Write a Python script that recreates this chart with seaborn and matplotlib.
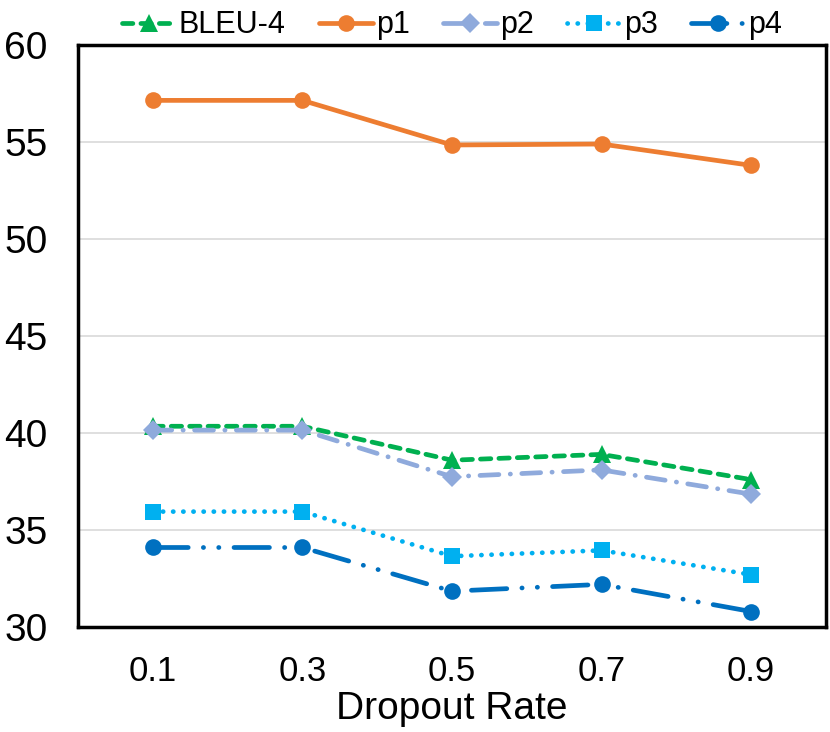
import numpy as np
import pandas as pd
import matplotlib
matplotlib.use('Agg')
import matplotlib.pyplot as plt
import seaborn as sns

# values
dropout = ['0.1', '0.3', '0.5', '0.7', '0.9']
bleu4 = [40.35, 40.35, 38.6, 38.9, 37.6]
p1 = [57.15, 57.15, 54.85, 54.9, 53.8]
p2 = [40.15, 40.15, 37.75, 38.1, 36.85]
p3 = [35.95, 35.95, 33.65, 33.95, 32.7]
p4 = [34.1, 34.1, 31.85, 32.2, 30.8]

sns.set_style('white')
plt.rcParams['font.family'] = ['Liberation Sans', 'DejaVu Sans']
for k in ['text.color', 'axes.labelcolor', 'xtick.color', 'ytick.color']:
    plt.rcParams[k] = 'black'

fig = plt.figure(figsize=(8.3, 7.32), dpi=100)
ax = fig.add_axes([0.094, 0.1434, 0.901, 0.795])

series = [
    ('BLEU-4', bleu4, '#00B050', '^', (0, (2.2, 1.7)), 13),
    ('p1', p1, '#ED7D31', 'o', '-', 12),
    ('p2', p2, '#8FAADC', 'D', (0, (4.0, 2.4, 0.05, 2.4)), 10),
    ('p3', p3, '#00B0F0', 's', (0, (0.05, 2.1)), 11),
    ('p4', p4, '#0070C0', 'o', (0, (7.5, 3.2, 0.05, 3.2, 0.05, 3.2)), 12),
]

for name, vals, col, mk, ls, ms in series:
    df = pd.DataFrame({'Dropout Rate': dropout, 'value': vals})
    sns.lineplot(data=df, x='Dropout Rate', y='value', ax=ax, color=col,
                 marker=mk, markersize=ms, markeredgewidth=0, linewidth=3.4,
                 linestyle=ls, label=name, dash_capstyle='round',
                 solid_capstyle='round')

ax.set_xlim(-0.5, 4.5)
ax.set_ylim(30, 60)
ax.set_yticks([30, 35, 40, 45, 50, 55, 60])
ax.grid(axis='y', color='#D9D9D9', linewidth=1.2)
ax.set_axisbelow(True)
ax.tick_params(axis='x', labelsize=25, length=0, pad=20)
ax.tick_params(axis='y', labelsize=28, length=0, pad=22)
ax.set_xlabel('Dropout Rate', fontsize=28, labelpad=2)
ax.set_ylabel('')
for sp in ax.spines.values():
    sp.set_color('black')
    sp.set_linewidth(2.5)

ax.legend(loc='lower center', bbox_to_anchor=(0.5, 1.008), ncol=5,
          frameon=False, fontsize=22, handlelength=1.75, columnspacing=1.1,
          handletextpad=0.1, borderaxespad=0, borderpad=0)

fig.savefig('out.png', dpi=100)
